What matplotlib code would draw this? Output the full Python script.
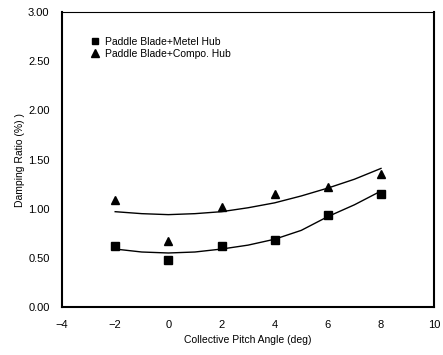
import matplotlib
matplotlib.use("Agg")
import matplotlib.pyplot as plt

plt.rcParams['font.family'] = ['Liberation Sans', 'DejaVu Sans']

# measured points
angle = [-2, 0, 2, 4, 6, 8]
metal_hub = [0.62, 0.48, 0.62, 0.68, 0.94, 1.15]
compo_hub = [1.09, 0.67, 1.02, 1.15, 1.22, 1.35]

# trend curves
curve_x = [-2, -1, 0, 1, 2, 3, 4, 5, 6, 7, 8]
metal_curve = [0.59, 0.56, 0.55, 0.56, 0.59, 0.63, 0.69, 0.78, 0.92, 1.04, 1.18]
compo_curve = [0.97, 0.95, 0.94, 0.95, 0.97, 1.01, 1.06, 1.13, 1.21, 1.30, 1.41]

fig = plt.figure(figsize=(4.43, 3.55), dpi=100)
ax = fig.add_axes([0.140, 0.135, 0.840, 0.831])

ax.plot(angle, metal_hub, 's', color='black', markersize=5.5, label='Paddle Blade+Metel Hub')
ax.plot(angle, compo_hub, '^', color='black', markersize=6, label='Paddle Blade+Compo. Hub')
ax.plot(curve_x, metal_curve, '-', color='black', linewidth=1.0)
ax.plot(curve_x, compo_curve, '-', color='black', linewidth=1.0)

ax.set_xlim(-4, 10)
ax.set_ylim(0, 3)
ax.set_xticks(range(-4, 11, 2))
ax.set_xticklabels(['\u22124', '\u22122', '0', '2', '4', '6', '8', '10'])
ax.set_yticks([0, 0.5, 1.0, 1.5, 2.0, 2.5, 3.0])
ax.set_yticklabels(['0.00', '0.50', '1.00', '1.50', '2.00', '2.50', '3.00'])
ax.tick_params(length=0, labelsize=8, pad=9)

for s in ['left', 'bottom', 'right']:
    ax.spines[s].set_linewidth(1.5)
ax.spines['top'].set_linewidth(0.8)

ax.set_xlabel('Collective Pitch Angle (deg)', fontsize=7.5, labelpad=4)
ax.set_ylabel('Damping Ratio (%) )', fontsize=7.5, labelpad=2)

ax.legend(loc='upper left', bbox_to_anchor=(0.065, 0.93), frameon=False,
          fontsize=7.5, handlelength=0.8, handletextpad=0.6, labelspacing=0.2,
          borderaxespad=0, markerscale=0.85)

fig.savefig('out.png', dpi=100)
